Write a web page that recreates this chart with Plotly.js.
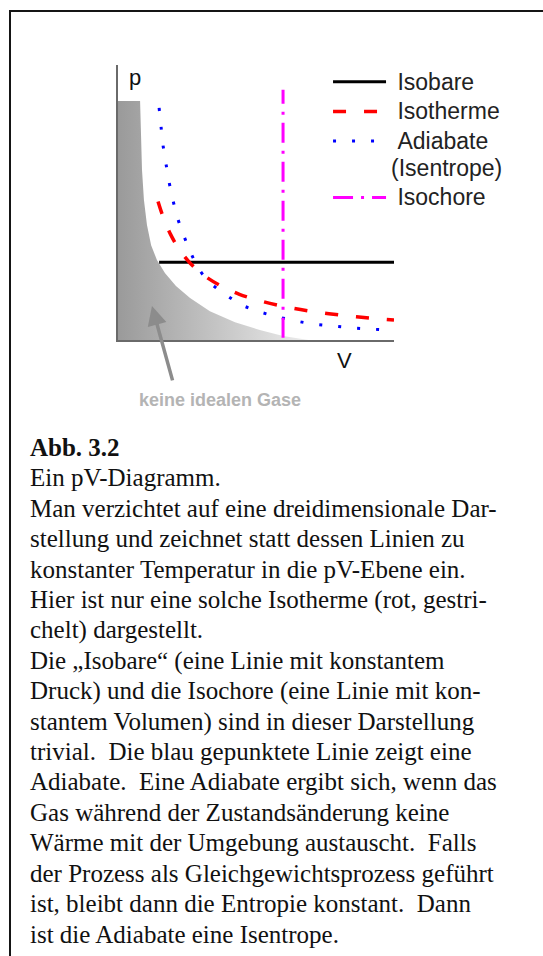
<!DOCTYPE html>
<html>
<head>
<meta charset="utf-8">
<script src="https://cdn.plot.ly/plotly-3.0.1.min.js"></script>
<style>
  html, body { margin: 0; padding: 0; background: #fff; }
  body { width: 543px; height: 956px; position: relative; overflow: hidden; }
  #frame {
    position: absolute; left: 9px; top: 10px; width: 540px; height: 950px;
    border-top: 2px solid #151515; border-left: 2px solid #151515;
  }
  #chart { position: absolute; left: 0; top: 0; width: 543px; height: 420px; }
  #caption {
    position: absolute; left: 30px; top: 433px;
    font-family: "Liberation Serif", "Times New Roman", serif;
    font-size: 25px; line-height: 30.4px; color: #111;
  }
  #caption div { white-space: pre; }
</style>
</head>
<body>
<div id="frame"></div>
<div id="chart"></div>
<div id="caption">
<div><b>Abb. 3.2</b></div>
<div>Ein pV-Diagramm.</div>
<div>Man verzichtet auf eine dreidimensionale Dar-</div>
<div>stellung und zeichnet statt dessen Linien zu</div>
<div>konstanter Temperatur in die pV-Ebene ein.</div>
<div>Hier ist nur eine solche Isotherme (rot, gestri-</div>
<div>chelt) dargestellt.</div>
<div>Die „Isobare“ (eine Linie mit konstantem</div>
<div>Druck) und die Isochore (eine Linie mit kon-</div>
<div>stantem Volumen) sind in dieser Darstellung</div>
<div>trivial.  Die blau gepunktete Linie zeigt eine</div>
<div>Adiabate.  Eine Adiabate ergibt sich, wenn das</div>
<div>Gas während der Zustandsänderung keine</div>
<div>Wärme mit der Umgebung austauscht.  Falls</div>
<div>der Prozess als Gleichgewichtsprozess geführt</div>
<div>ist, bleibt dann die Entropie konstant.  Dann</div>
<div>ist die Adiabate eine Isentrope.</div>
</div>
<script>
// Region of non-ideal gases (outline of the shaded area)
var realGasV = [0, 0, 0.80, 0.83, 0.87, 0.94, 1.05, 1.20, 1.41, 1.70, 2.10, 2.61, 3.33, 4.24, 5.14, 5.98, 6.78, 6.90, 0];
var realGasP = [0, 8.69, 8.69, 7.27, 6.18, 5.09, 4.18, 3.45, 2.91, 2.44, 1.96, 1.53, 1.05, 0.65, 0.36, 0.15, 0.02, 0, 0];

// Isobar: constant pressure
var isobarV = [1.49, 10.0];
var isobarP = [2.83, 2.83];

// Isotherm: p*V = const
var isothermV = [1.45, 1.65, 1.90, 2.20, 2.60, 3.10, 3.70, 4.40, 5.20, 6.10, 7.10, 8.20, 9.10, 10.0];
var isothermP = [5.04, 4.43, 3.85, 3.32, 2.81, 2.36, 1.98, 1.66, 1.41, 1.20, 1.03, 0.89, 0.80, 0.73];

// Adiabat (isentrope)
var adiabatV = [1.49, 1.56, 1.63, 1.74, 1.85, 1.99, 2.17, 2.39, 2.64, 2.93, 3.30, 3.91, 4.49, 5.14, 5.80, 6.45, 7.10, 7.79, 8.48, 9.13, 9.78, 10.0];
var adiabatP = [8.44, 7.75, 7.09, 6.40, 5.75, 5.09, 4.40, 3.78, 3.16, 2.58, 2.11, 1.64, 1.27, 1.02, 0.84, 0.69, 0.58, 0.51, 0.44, 0.40, 0.36, 0.35];

// Isochore: constant volume
var isochoreV = [5.98, 5.98];
var isochoreP = [0.08, 9.10];

var seriesNames = ['Isobare', 'Isotherme', 'Adiabate', 'Isochore'];
var adiabatNote = '(Isentrope)';

// legend labels are set a little larger than the legend row pitch
function label(t) { return '<span style="font-size:23px">' + t + '</span>'; }

var traces = [
  {
    x: realGasV, y: realGasP, mode: 'lines', fill: 'toself',
    line: {width: 0, color: 'rgba(0,0,0,0)'},
    fillcolor: '#b8b8b8',
    fillgradient: {type: 'horizontal', colorscale: [[0, '#9a9a9a'], [1, '#ececec']]},
    showlegend: false, hoverinfo: 'skip'
  },
  {
    x: isobarV, y: isobarP, mode: 'lines', name: label('&nbsp;' + seriesNames[0]),
    line: {color: '#000000', width: 3}
  },
  {
    x: isothermV, y: isothermP, mode: 'lines', name: label('&nbsp;' + seriesNames[1]),
    line: {color: '#ff0000', width: 3.5, dash: '13px,18px', shape: 'spline', smoothing: 0.8}
  },
  {
    x: adiabatV, y: adiabatP, mode: 'lines',
    name: label('&nbsp;' + seriesNames[2]) + '<br>' + label(adiabatNote),
    line: {color: '#0000ff', width: 3, dash: '3px,16px', shape: 'spline', smoothing: 0.8}
  },
  {
    x: isochoreV, y: isochoreP, mode: 'lines', name: label('&nbsp;' + seriesNames[3]),
    line: {color: '#ff00ff', width: 3, dash: '20px,8px,3px,8px'}
  }
];

var axisBase = {
  range: [0, 10], showgrid: false, zeroline: false, showticklabels: false,
  ticks: '', showline: true, linecolor: '#6a6a6a', linewidth: 2, fixedrange: true
};

var layout = {
  width: 543, height: 420,
  margin: {l: 118, r: 149, t: 65, b: 80},
  paper_bgcolor: 'rgba(0,0,0,0)', plot_bgcolor: 'rgba(0,0,0,0)',
  font: {family: 'Liberation Sans, Arial, sans-serif', color: '#222'},
  xaxis: Object.assign({}, axisBase),
  yaxis: Object.assign({}, axisBase),
  showlegend: true,
  legend: {
    x: 0.761, y: 1.011, xanchor: 'left', yanchor: 'top',
    bgcolor: 'rgba(255,255,255,0)', borderwidth: 0,
    font: {size: 20.5, color: '#222', family: 'Liberation Sans, Arial, sans-serif'},
    itemwidth: 53, valign: 'top', tracegroupgap: 0
  },
  annotations: [
    {xref: 'paper', yref: 'paper', x: 0.062, y: 0.956, xanchor: 'center', yanchor: 'middle',
     text: 'p', showarrow: false, font: {size: 22, color: '#111'}},
    {xref: 'paper', yref: 'paper', x: 0.819, y: -0.073, xanchor: 'center', yanchor: 'middle',
     text: 'V', showarrow: false, font: {size: 22, color: '#111'}},
    {xref: 'x', yref: 'y', x: 1.23, y: 1.24, text: '', showarrow: true,
     ax: 21, ay: 76, arrowhead: 2, arrowsize: 1.1, arrowwidth: 3.5, arrowcolor: '#8c8c8c'},
    {xref: 'paper', yref: 'paper', x: 0.37, y: -0.218, xanchor: 'center', yanchor: 'middle',
     text: '<b>keine idealen Gase</b>', showarrow: false, font: {size: 18, color: '#b4b4b4'}}
  ]
};

Plotly.newPlot('chart', traces, layout, {displayModeBar: false, staticPlot: true});
</script>
</body>
</html>
